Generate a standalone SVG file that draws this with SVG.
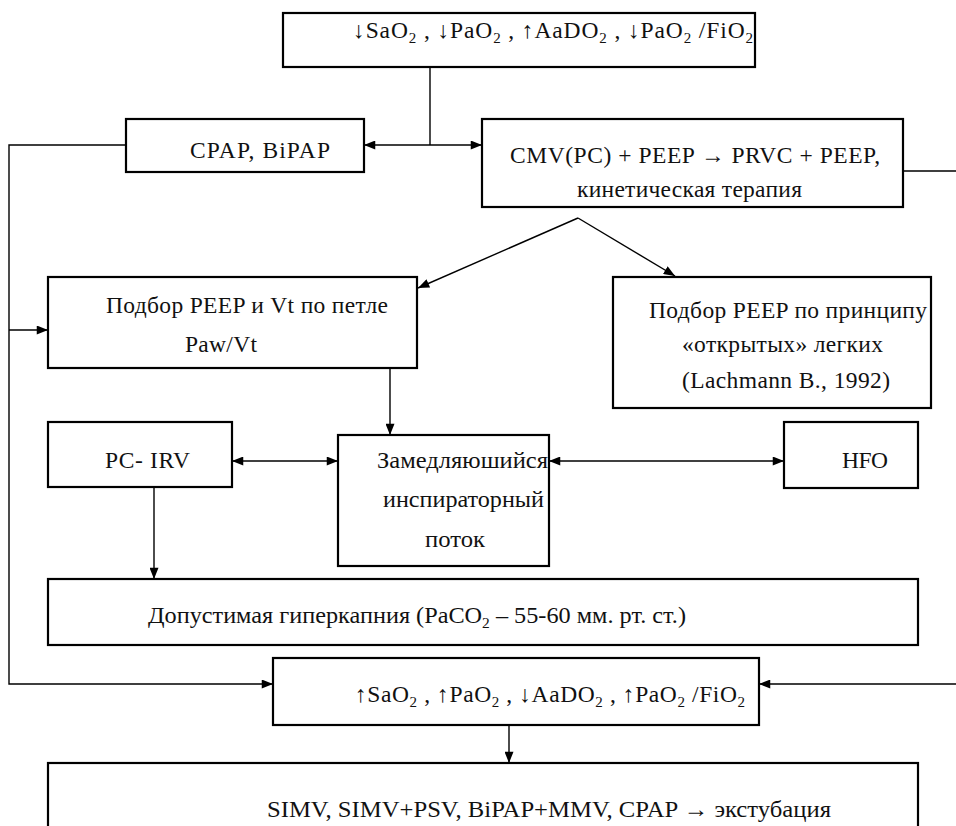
<svg xmlns="http://www.w3.org/2000/svg" width="956" height="826" viewBox="0 0 956 826">
<defs>
<marker id="ah" viewBox="0 0 10 8" refX="10" refY="4" markerWidth="12" markerHeight="9" markerUnits="userSpaceOnUse" orient="auto-start-reverse">
<path d="M0,0 L10,4 L0,8 z" fill="#000"/>
</marker>
</defs>
<rect width="956" height="826" fill="#fff"/>
<g id="connectors" fill="none" stroke="#000" stroke-width="1.4">
<path d="M430,67 V145"/>
<path d="M364,145 H482" marker-start="url(#ah)" marker-end="url(#ah)"/>
<path d="M126,145 H9 V684 H273" marker-end="url(#ah)"/>
<path d="M9,330 H48" marker-end="url(#ah)"/>
<path d="M903,171 H960 V684 H759" marker-end="url(#ah)"/>
<path d="M578,218 L418,288" marker-end="url(#ah)"/>
<path d="M578,218 L675,276" marker-end="url(#ah)"/>
<path d="M390,368 V435" marker-end="url(#ah)"/>
<path d="M232,461 H338" marker-start="url(#ah)" marker-end="url(#ah)"/>
<path d="M549,461 H784" marker-start="url(#ah)" marker-end="url(#ah)"/>
<path d="M154,487 V579" marker-end="url(#ah)"/>
<path d="M509,725 V763" marker-end="url(#ah)"/>
</g>
<g id="nodes" font-family="Liberation Serif" font-size="23.5" fill="#111">
<g id="top">
<rect x="283" y="13" width="472" height="54" fill="#fff" stroke="#000" stroke-width="2.2"/>
<text x="353" y="38" textLength="400">↓SaO<tspan font-size="15" dy="5">2</tspan><tspan dy="-5"> , ↓PaO</tspan><tspan font-size="15" dy="5">2</tspan><tspan dy="-5"> , ↑AaDO</tspan><tspan font-size="15" dy="5">2</tspan><tspan dy="-5"> , ↓PaO</tspan><tspan font-size="15" dy="5">2</tspan><tspan dy="-5"> /FiO</tspan><tspan font-size="15" dy="5">2</tspan></text>
</g>
<g id="cpap">
<rect x="126" y="119" width="238" height="53" fill="#fff" stroke="#000" stroke-width="2.2"/>
<text x="190" y="158" textLength="140">CPAP, BiPAP</text>
</g>
<g id="cmv">
<rect x="482" y="119" width="421" height="88" fill="#fff" stroke="#000" stroke-width="2.2"/>
<text x="510" y="163" textLength="370">CMV(PC) + PEEP → PRVC + PEEP,</text>
<text x="577" y="197" textLength="225">кинетическая терапия</text>
</g>
<g id="podbor1">
<rect x="48" y="277" width="369" height="91" fill="#fff" stroke="#000" stroke-width="2.2"/>
<text x="106" y="313" textLength="282">Подбор PEEP и Vt по петле</text>
<text x="185" y="352" textLength="72">Paw/Vt</text>
</g>
<g id="podbor2">
<rect x="613" y="277" width="318" height="131" fill="#fff" stroke="#000" stroke-width="2.2"/>
<text x="649" y="318" textLength="278">Подбор PEEP по принципу</text>
<text x="682" y="352" textLength="201">«открытых» легких</text>
<text x="682" y="388" textLength="208">(Lachmann B., 1992)</text>
</g>
<g id="pcirv">
<rect x="48" y="422" width="184" height="65" fill="#fff" stroke="#000" stroke-width="2.2"/>
<text x="105" y="468" textLength="85">PC- IRV</text>
</g>
<g id="zamedl">
<rect x="338" y="435" width="211" height="131" fill="#fff" stroke="#000" stroke-width="2.2"/>
<text x="377" y="468" textLength="171" lengthAdjust="spacingAndGlyphs">Замедляюшийся</text>
<text x="383" y="507" textLength="161" lengthAdjust="spacingAndGlyphs">инспираторный</text>
<text x="425" y="547" textLength="60" lengthAdjust="spacingAndGlyphs">поток</text>
</g>
<g id="hfo">
<rect x="784" y="422" width="134" height="66" fill="#fff" stroke="#000" stroke-width="2.2"/>
<text x="842" y="468" textLength="46">HFO</text>
</g>
<g id="dopust">
<rect x="48" y="579" width="870" height="66" fill="#fff" stroke="#000" stroke-width="2.2"/>
<text x="148" y="623" textLength="538" lengthAdjust="spacingAndGlyphs">Допустимая гиперкапния (PaCO<tspan font-size="15" dy="5">2</tspan><tspan dy="-5"> – 55-60 мм. рт. ст.)</tspan></text>
</g>
<g id="result">
<rect x="273" y="658" width="486" height="67" fill="#fff" stroke="#000" stroke-width="2.2"/>
<text x="355" y="702" textLength="390">↑SaO<tspan font-size="15" dy="5">2</tspan><tspan dy="-5"> , ↑PaO</tspan><tspan font-size="15" dy="5">2</tspan><tspan dy="-5"> , ↓AaDO</tspan><tspan font-size="15" dy="5">2</tspan><tspan dy="-5"> , ↑PaO</tspan><tspan font-size="15" dy="5">2</tspan><tspan dy="-5"> /FiO</tspan><tspan font-size="15" dy="5">2</tspan></text>
</g>
<g id="final">
<rect x="48" y="763" width="870" height="80" fill="#fff" stroke="#000" stroke-width="2.2"/>
<text x="267" y="817" textLength="564" lengthAdjust="spacingAndGlyphs">SIMV, SIMV+PSV, BiPAP+MMV, CPAP → экстубация</text>
</g>
</g>
</svg>
